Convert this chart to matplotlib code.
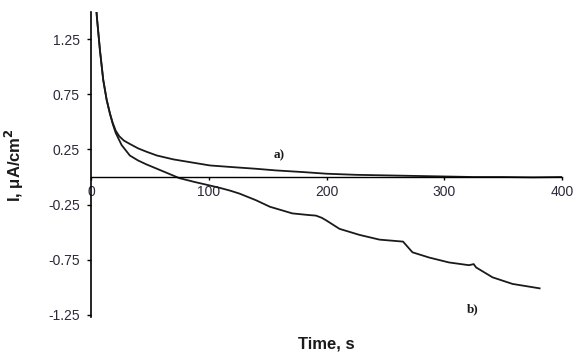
import matplotlib
matplotlib.use("Agg")
import matplotlib.pyplot as plt

# data
time_a = [3, 5, 7.6, 10.4, 13.3, 16.1, 18.5, 21, 24, 28, 33, 40, 47, 56, 70, 84,
          101, 120, 140, 157, 180, 200, 225, 250, 275, 300, 325, 350, 375, 400]
cur_a = [1.75, 1.45, 1.15, 0.88, 0.70, 0.575, 0.49, 0.42, 0.37, 0.33, 0.30, 0.26,
         0.23, 0.195, 0.16, 0.135, 0.105, 0.09, 0.075, 0.06, 0.045, 0.03, 0.02,
         0.015, 0.01, 0.005, 0.0, 0.0, -0.003, 0.0]

time_b = [3, 5, 7.6, 10.4, 13.3, 16.1, 18.5, 21, 26, 33, 40, 47, 56, 65, 75, 88,
          101, 110, 118, 126, 140, 152, 171, 185, 191, 196, 200, 211, 228, 245,
          265, 273, 287, 304, 321, 325, 327, 341, 358, 381]
cur_b = [1.75, 1.45, 1.15, 0.88, 0.70, 0.575, 0.48, 0.40, 0.29, 0.195, 0.15,
         0.115, 0.075, 0.035, -0.01, -0.045, -0.077, -0.10, -0.123, -0.15, -0.21,
         -0.27, -0.33, -0.345, -0.35, -0.37, -0.395, -0.47, -0.525, -0.568,
         -0.586, -0.683, -0.73, -0.775, -0.80, -0.79, -0.82, -0.91, -0.97, -1.01]

xticks = [0, 100, 200, 300, 400]
xtick_labels = ["0", "100", "200", "300", "400"]
yticks = [1.25, 0.75, 0.25, -0.25, -0.75, -1.25]
ytick_labels = ["1.25", "0.75", "0.25", "-0.25", "-0.75", "-1.25"]

plt.rcParams['font.family'] = ['Liberation Sans', 'DejaVu Sans']

fig = plt.figure(figsize=(5.77, 3.54), dpi=100)
ax = fig.add_axes([91/577, 1-317/354, (562-91)/577, (317-11.7)/354])

ax.plot(time_a, cur_a, color='#1a1a1a', lw=1.3)
ax.plot(time_b, cur_b, color='#1a1a1a', lw=1.3)

ax.set_xlim(0, 400)
ax.set_ylim(-1.27, 1.50)

ax.spines['top'].set_visible(False)
ax.spines['right'].set_visible(False)
ax.spines['bottom'].set_position(('data', 0))
ax.spines['bottom'].set_linewidth(1.0)
ax.spines['left'].set_linewidth(1.2)

ax.set_xticks(xticks)
ax.set_xticklabels(xtick_labels)
ax.set_yticks(yticks)
ax.set_yticklabels(ytick_labels)
ax.tick_params(axis='x', direction='out', length=2.5, width=1, pad=3.5,
               labelsize=10, labelcolor='#2a2a3a')
ax.tick_params(axis='y', direction='out', length=3, width=1, pad=5,
               labelsize=10, labelcolor='#2a2a3a')

ax.text(160, 0.195, "a)", family=['Liberation Serif'], fontweight='bold',
        fontsize=9.5, ha='center', va='center', color='#1a1a1a')
ax.text(324, -1.2, "b)", family=['Liberation Serif'], fontweight='bold',
        fontsize=9.5, ha='center', va='center', color='#1a1a1a')

fig.text(326.5/577, 1-344/354, "Time, s", fontsize=12, fontweight='bold',
         ha='center', va='center', color='#1a1a1a')
fig.text(14/577, 1-165/354, "I, \u03bcA/cm$^\\mathbf{2}$", fontsize=12,
         fontweight='bold', ha='center', va='center', rotation=90,
         color='#1a1a1a')

fig.savefig("out.png", dpi=100)
